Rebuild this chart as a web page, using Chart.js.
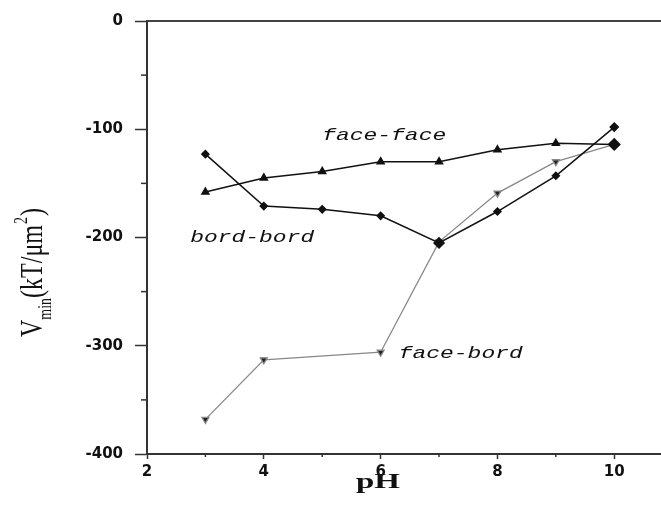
<!DOCTYPE html>
<html>
<head>
<meta charset="utf-8">
<script src="https://cdn.jsdelivr.net/npm/chart.js@4"></script>
<style>
  html, body { margin: 0; padding: 0; background: #fff; }
</style>
</head>
<body>
<canvas id="chart" width="661" height="505"></canvas>
<script>
// values
const phFaceFace = [3, 4, 5, 6, 7, 8, 9, 10];
const faceFace = [-158, -145, -139, -130, -130, -119, -113, -114];

const phBordBord = [3, 4, 5, 6, 7, 8, 9, 10];
const bordBord = [-123, -171, -174, -180, -205, -176, -143, -98];

const phFaceBord = [3, 4, 6, 7, 8, 9, 10];
const faceBord = [-368, -313, -306, -204, -159, -130, -114];

const xTicks = [2, 4, 6, 8, 10];
const xMinorTicks = [3, 5, 7, 9];
const yTicks = [0, -100, -200, -300, -400];
const yMinorTicks = [-50, -150, -250, -350];

const toPoints = (xs, ys) => xs.map((x, i) => ({ x: x, y: ys[i] }));

// minor ticks, top frame line, titles and curve labels
const decorations = {
  id: 'decorations',
  afterDraw(chart) {
    const ctx = chart.ctx;
    const area = chart.chartArea;
    const xs = chart.scales.x;
    const ys = chart.scales.y;
    ctx.save();

    // top frame line
    ctx.strokeStyle = '#444';
    ctx.lineWidth = 2;
    ctx.beginPath();
    ctx.moveTo(area.left, area.top);
    ctx.lineTo(area.right, area.top);
    ctx.stroke();

    // minor ticks
    ctx.strokeStyle = '#333';
    ctx.lineWidth = 1.5;
    yMinorTicks.forEach(v => {
      const py = ys.getPixelForValue(v);
      ctx.beginPath();
      ctx.moveTo(area.left - 6, py);
      ctx.lineTo(area.left, py);
      ctx.stroke();
    });
    xMinorTicks.forEach(v => {
      const px = xs.getPixelForValue(v);
      ctx.beginPath();
      ctx.moveTo(px, area.bottom);
      ctx.lineTo(px, area.bottom + 3);
      ctx.stroke();
    });

    // curve labels (italic, stretched like the scan)
    ctx.fillStyle = '#111';
    ctx.font = 'italic 17px "Liberation Mono"';
    ctx.textAlign = 'left';
    ctx.textBaseline = 'middle';
    const curveLabels = [['face-face', 5.0, -106], ['bord-bord', 2.74, -200], ['face-bord', 6.31, -307]];
    curveLabels.forEach(([t, x, y]) => {
      ctx.save();
      ctx.translate(xs.getPixelForValue(x), ys.getPixelForValue(y));
      ctx.scale(1.35, 1);
      ctx.fillText(t, 0, 0);
      ctx.restore();
    });

    // x title
    ctx.save();
    ctx.translate(378, 488);
    ctx.scale(1.5, 1);
    ctx.font = 'bold 22px "Liberation Serif"';
    ctx.textAlign = 'center';
    ctx.textBaseline = 'alphabetic';
    ctx.fillText('pH', 0, 0);
    ctx.restore();

    // y title: V_min(kT/μm^2)
    ctx.save();
    ctx.translate(42, 337);
    ctx.rotate(-Math.PI / 2);
    ctx.scale(1, 1.35);
    ctx.textAlign = 'left';
    ctx.textBaseline = 'alphabetic';
    let cx = 0;
    const big = '24px "Liberation Serif"';
    const small = '14px "Liberation Serif"';
    ctx.font = big;
    ctx.fillText('V', cx, 0);
    cx += ctx.measureText('V').width;
    ctx.font = small;
    ctx.fillText('min', cx, 7);
    cx += ctx.measureText('min').width;
    ctx.font = big;
    ctx.fillText('(kT/\u03bcm', cx, 0);
    cx += ctx.measureText('(kT/\u03bcm').width;
    ctx.font = small;
    ctx.fillText('2', cx + 1, -11);
    cx += ctx.measureText('2').width + 2;
    ctx.font = big;
    ctx.fillText(')', cx, 0);
    ctx.restore();

    ctx.restore();
  }
};

new Chart(document.getElementById('chart'), {
  type: 'scatter',
  data: {
    datasets: [
      {
        label: 'face-face',
        data: toPoints(phFaceFace, faceFace),
        showLine: true,
        borderColor: '#111',
        backgroundColor: '#111',
        borderWidth: 1.5,
        pointStyle: ['triangle', 'triangle', 'triangle', 'triangle', 'triangle', 'triangle', 'triangle', 'rectRot'],
        pointRadius: [4, 4, 4, 4, 4, 4, 4, 5.5],
      },
      {
        label: 'bord-bord',
        data: toPoints(phBordBord, bordBord),
        showLine: true,
        borderColor: '#111',
        backgroundColor: '#111',
        borderWidth: 1.5,
        pointStyle: 'rectRot',
        pointRadius: [3.5, 3.5, 3.5, 3.5, 5, 3.5, 3.5, 4],
      },
      {
        label: 'face-bord',
        data: toPoints(phFaceBord, faceBord),
        showLine: true,
        borderColor: '#888',
        backgroundColor: '#222',
        borderWidth: 1.3,
        pointStyle: 'triangle',
        rotation: 180,
        pointRadius: 4,
      }
    ]
  },
  options: {
    responsive: false,
    animation: false,
    layout: { autoPadding: false, padding: { top: 20, right: 0, left: 0, bottom: 0 } },
    scales: {
      x: {
        type: 'linear',
        min: 2,
        max: 10.8,
        afterBuildTicks: s => { s.ticks = xTicks.map(v => ({ value: v })); },
        afterFit: s => { s.height = 51; s.paddingLeft = 0; s.paddingRight = 0; },
        grid: { drawOnChartArea: false, tickLength: 5, tickColor: '#333', tickWidth: 1.5 },
        border: { color: '#333', width: 2 },
        ticks: {
          padding: 4,
          color: '#111',
          font: { family: 'DejaVu Sans', weight: 'bold', size: 15 }
        }
      },
      y: {
        min: -400,
        max: 0,
        afterBuildTicks: s => { s.ticks = yTicks.map(v => ({ value: v })); },
        afterFit: s => { s.width = 147; },
        grid: { drawOnChartArea: false, tickLength: 12, tickColor: '#333', tickWidth: 1.5 },
        border: { color: '#333', width: 2 },
        ticks: {
          padding: 12,
          color: '#111',
          font: { family: 'DejaVu Sans', weight: 'bold', size: 15 }
        }
      }
    },
    plugins: {
      legend: { display: false },
      tooltip: { enabled: false }
    }
  },
  plugins: [decorations]
});
</script>
</body>
</html>
